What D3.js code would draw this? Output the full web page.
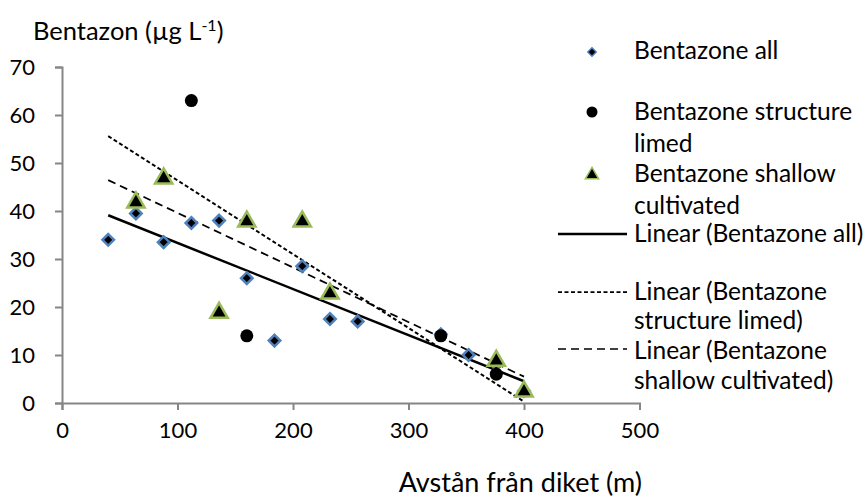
<!DOCTYPE html>
<html>
<head>
<meta charset="utf-8">
<script src="https://cdn.jsdelivr.net/npm/d3@7"></script>
<style>
body { margin: 0; background: #fff; }
svg text { font-family: Lato, "Open Sans", sans-serif; fill: #000; }
</style>
</head>
<body>
<svg id="chart" width="867" height="500"></svg>
<script>
// distance from ditch (m) and bentazon (ug/L), one pair of arrays per series
var all_x = [40, 64, 88, 112, 136, 160, 184, 208, 232, 256, 328, 352, 376, 400];
var all_y = [34, 39.5, 33.5, 37.5, 38, 26, 13, 28.5, 17.5, 17, 14.3, 10, 8, 2.5];
var limed_x = [112, 160, 328, 376];
var limed_y = [63, 14, 14, 6];
var shallow_x = [64, 88, 136, 160, 208, 232, 376, 400];
var shallow_y = [42, 47, 19, 38, 38, 23, 9, 2.6];

var x_ticks = [0, 100, 200, 300, 400, 500];
var y_ticks = [0, 10, 20, 30, 40, 50, 60, 70];

var svg = d3.select("#chart");
var fs = 24.5;

var x = d3.scaleLinear().domain([0, 500]).range([62, 639.5]);
var y = d3.scaleLinear().domain([0, 70]).range([403, 67]);

// linear fit, like excel trendline, over the x range of the series set
function fit(xs, ys) {
    var mx = d3.mean(xs), my = d3.mean(ys);
    var sxy = d3.sum(xs, (v, i) => (v - mx) * (ys[i] - my));
    var sxx = d3.sum(xs, v => (v - mx) * (v - mx));
    var b = sxy / sxx;
    return v => my + b * (v - mx);
}
var span = d3.extent(all_x);

// axes
var xAxis = svg.append("g").attr("transform", "translate(0,403)")
    .call(d3.axisBottom(x).tickValues(x_ticks).tickSizeOuter(0).tickSize(7).tickPadding(12));
var yAxis = svg.append("g").attr("transform", "translate(62,0)")
    .call(d3.axisLeft(y).tickValues(y_ticks).tickSizeOuter(0).tickSize(7).tickPadding(20));
[xAxis, yAxis].forEach(function(a){
    a.selectAll("path, line").attr("stroke", "#868686").attr("stroke-width", 2);
    a.selectAll("text").style("font-size", "22px").style("font-family", "Lato, sans-serif");
});
xAxis.selectAll("text").attr("dy", "0.71em");

// trendlines
var trends = [
    {xs: all_x, ys: all_y, dash: null, w: 2.5},
    {xs: limed_x, ys: limed_y, dash: "4,2.5", w: 2},
    {xs: shallow_x, ys: shallow_y, dash: "8,5", w: 1.75}
];
trends.forEach(function(t){
    var f = fit(t.xs, t.ys);
    svg.append("line")
        .attr("x1", x(span[0])).attr("y1", y(f(span[0])))
        .attr("x2", x(span[1])).attr("y2", y(f(span[1])))
        .attr("stroke", "#000").attr("stroke-width", t.w)
        .attr("stroke-dasharray", t.dash);
});

var diamond = d3.symbol().type(d3.symbolDiamond2).size(85);
var tri = d3.symbol().type(d3.symbolTriangle).size(130);

function pts(xs, ys){ return xs.map((v, i) => ({x: v, y: ys[i]})); }

svg.selectAll(".all").data(pts(all_x, all_y)).enter().append("path")
    .attr("class", "all")
    .attr("d", diamond)
    .attr("transform", d => "translate(" + x(d.x) + "," + y(d.y) + ")")
    .attr("fill", "#000").attr("stroke", "#4f81bd").attr("stroke-width", 2.5);

svg.selectAll(".limed").data(pts(limed_x, limed_y)).enter().append("circle")
    .attr("class", "limed")
    .attr("cx", d => x(d.x)).attr("cy", d => y(d.y)).attr("r", 6.5)
    .attr("fill", "#000");

svg.selectAll(".shallow").data(pts(shallow_x, shallow_y)).enter().append("path")
    .attr("class", "shallow")
    .attr("d", tri)
    .attr("transform", d => "translate(" + x(d.x) + "," + (y(d.y) + 1) + ")")
    .attr("fill", "#000").attr("stroke", "#9bbb59").attr("stroke-width", 2.5);

// titles
var t = svg.append("text").attr("x", 33).attr("y", 40).style("font-size", "25.5px");
t.append("tspan").text("Bentazon (µg L");
t.append("tspan").attr("dy", -9).style("font-size", "16px").text("-1");
t.append("tspan").attr("dy", 9).text(")");

svg.append("text").attr("x", 642).attr("y", 492).attr("text-anchor", "end")
    .style("font-size", "27px").text("Avstån från diket (m)");

// legend
var lx = 634;
var leg = svg.append("g");
leg.append("path").attr("d", d3.symbol().type(d3.symbolDiamond2).size(45))
    .attr("transform", "translate(592,52)")
    .attr("fill", "#000").attr("stroke", "#4f81bd").attr("stroke-width", 1.5);
leg.append("circle").attr("cx", 592).attr("cy", 112).attr("r", 5.5).attr("fill", "#000");
leg.append("path").attr("d", d3.symbol().type(d3.symbolTriangle).size(75))
    .attr("transform", "translate(592,175)")
    .attr("fill", "#000").attr("stroke", "#9bbb59").attr("stroke-width", 1.5);
leg.append("line").attr("x1", 558).attr("x2", 627).attr("y1", 234).attr("y2", 234)
    .attr("stroke", "#000").attr("stroke-width", 2.5);
leg.append("line").attr("x1", 558).attr("x2", 627).attr("y1", 292).attr("y2", 292)
    .attr("stroke", "#000").attr("stroke-width", 1.75).attr("stroke-dasharray", "4,2.5");
leg.append("line").attr("x1", 558).attr("x2", 627).attr("y1", 349).attr("y2", 349)
    .attr("stroke", "#000").attr("stroke-width", 1.5).attr("stroke-dasharray", "8,5");

var legText = [
    ["Bentazone all", 59],
    ["Bentazone structure", 120], ["limed", 152],
    ["Bentazone shallow", 182], ["cultivated", 214],
    ["Linear (Bentazone all)", 242],
    ["Linear (Bentazone", 300], ["structure limed)", 329],
    ["Linear (Bentazone", 359], ["shallow cultivated)", 389]
];
leg.selectAll(".lt").data(legText).enter().append("text")
    .attr("class", "lt")
    .attr("x", lx).attr("y", d => d[1])
    .style("font-size", fs + "px")
    .text(d => d[0]);
</script>
</body>
</html>
